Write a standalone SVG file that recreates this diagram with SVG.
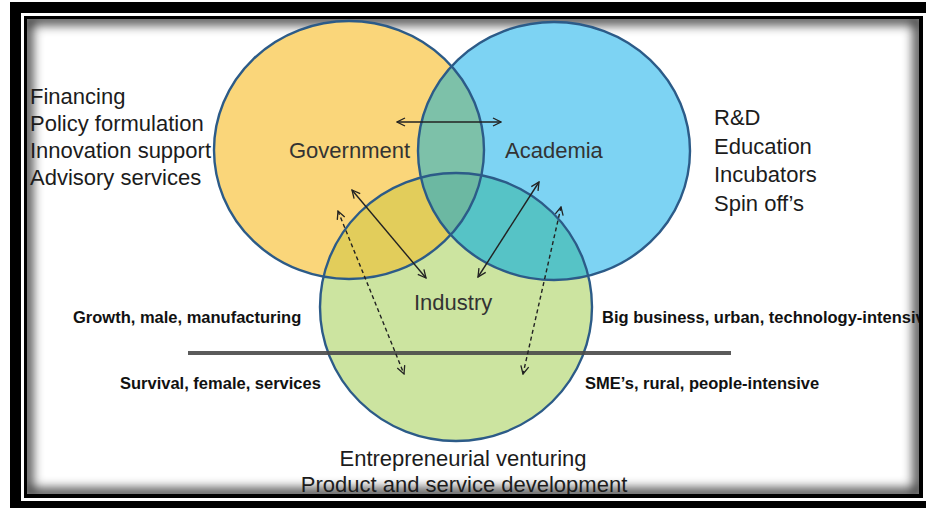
<svg xmlns="http://www.w3.org/2000/svg" width="926" height="508" viewBox="0 0 926 508">
<style>
.lbl{font-family:"Liberation Sans",Arial,sans-serif;font-size:22px;fill:#1c1c1c}
.clbl{font-family:"Liberation Sans",Arial,sans-serif;font-size:22px;fill:#333}
.btm{font-family:"Liberation Sans",Arial,sans-serif;font-size:22px;fill:#1c1c1c}
.bold{font-family:"Liberation Sans",Arial,sans-serif;font-size:16.5px;font-weight:bold;fill:#111}
.ring{fill:none;stroke:#2c5b88;stroke-width:2.4}
.conn{fill:none;stroke:#222;stroke-width:1.4}
.dash{stroke-dasharray:4 3}
</style>
<defs>
<marker id="ah" viewBox="0 0 10 10" refX="9" refY="5" markerWidth="10" markerHeight="10" markerUnits="userSpaceOnUse" orient="auto-start-reverse">
<path d="M1,1 L9,5 L1,9" fill="none" stroke="#222" stroke-width="1.3"/>
</marker>
<clipPath id="inner"><rect x="27" y="19" width="892" height="475"/></clipPath>
<clipPath id="cY"><ellipse cx="349" cy="150" rx="135" ry="129"/></clipPath>
<clipPath id="cB"><ellipse cx="554" cy="151" rx="136" ry="129"/></clipPath>
<filter id="blur" x="-10%" y="-10%" width="120%" height="120%"><feGaussianBlur stdDeviation="6"/></filter>
</defs>

<g id="frame">
<rect x="0" y="0" width="926" height="508" fill="#fff"/>
<rect x="10" y="2" width="926" height="516" fill="#000"/>
<rect x="21" y="13" width="910" height="488" fill="#fff"/>
<rect x="24" y="16" width="899" height="482" fill="#000"/>
<rect x="27" y="19" width="892" height="475" fill="#fff"/>
<g clip-path="url(#inner)">
<rect x="27" y="19" width="892" height="475" fill="none" stroke="#000" stroke-width="10" filter="url(#blur)" opacity="0.85"/>
</g>
</g>

<g clip-path="url(#inner)">
<g id="node-government">
<ellipse cx="349" cy="150" rx="135" ry="129" fill="#fad67a"/>
</g>
<g id="node-academia">
<ellipse cx="554" cy="151" rx="136" ry="129" fill="#7dd3f3"/>
</g>
<g id="node-industry">
<ellipse cx="456" cy="307" rx="136" ry="134" fill="#cce4a0"/>
</g>
<g id="overlaps">
<ellipse cx="554" cy="151" rx="136" ry="129" fill="#7dc1a9" clip-path="url(#cY)"/>
<ellipse cx="456" cy="307" rx="136" ry="134" fill="#e2cd5b" clip-path="url(#cY)"/>
<ellipse cx="456" cy="307" rx="136" ry="134" fill="#56c3c6" clip-path="url(#cB)"/>
<g clip-path="url(#cY)"><ellipse cx="456" cy="307" rx="136" ry="134" fill="#6cb8a2" clip-path="url(#cB)"/></g>
</g>
<g id="outlines">
<ellipse class="ring" cx="349" cy="150" rx="135" ry="129"/>
<ellipse class="ring" cx="554" cy="151" rx="136" ry="129"/>
<ellipse class="ring" cx="456" cy="307" rx="136" ry="134"/>
</g>

<g id="divider">
<line x1="188" y1="353" x2="731" y2="353" stroke="#4a4a4a" stroke-width="4" opacity="0.9"/>
</g>

<g id="connectors">
<line class="conn" x1="397" y1="122" x2="501" y2="122" marker-start="url(#ah)" marker-end="url(#ah)"/>
<line class="conn" x1="352" y1="190" x2="426" y2="278" marker-start="url(#ah)" marker-end="url(#ah)"/>
<line class="conn" x1="539" y1="182" x2="478" y2="277" marker-start="url(#ah)" marker-end="url(#ah)"/>
<line class="conn dash" x1="338" y1="211" x2="404" y2="374" marker-start="url(#ah)" marker-end="url(#ah)"/>
<line class="conn dash" x1="561" y1="207" x2="523" y2="374" marker-start="url(#ah)" marker-end="url(#ah)"/>
</g>

<g id="labels">
<text class="clbl" x="289" y="158">Government</text>
<text class="clbl" x="505" y="158">Academia</text>
<text class="clbl" x="414" y="310">Industry</text>
</g>

<g id="gov-roles">
<text class="lbl" x="30" y="104">Financing</text>
<text class="lbl" x="30" y="131">Policy formulation</text>
<text class="lbl" x="30" y="158">Innovation support</text>
<text class="lbl" x="30" y="185">Advisory services</text>
</g>
<g id="acad-roles">
<text class="lbl" x="714" y="125">R&amp;D</text>
<text class="lbl" x="714" y="154">Education</text>
<text class="lbl" x="714" y="182">Incubators</text>
<text class="lbl" x="714" y="211">Spin off’s</text>
</g>
<g id="side-notes">
<text class="bold" x="73" y="323">Growth, male, manufacturing</text>
<text class="bold" x="120" y="389">Survival, female, services</text>
<text class="bold" x="602" y="323">Big business, urban, technology-intensive</text>
<text class="bold" x="585" y="389">SME’s, rural, people-intensive</text>
</g>
<g id="bottom-notes">
<text class="btm" x="463" y="466" text-anchor="middle">Entrepreneurial venturing</text>
<text class="btm" x="464" y="492" text-anchor="middle">Product and service development</text>
</g>
</g>
</svg>
